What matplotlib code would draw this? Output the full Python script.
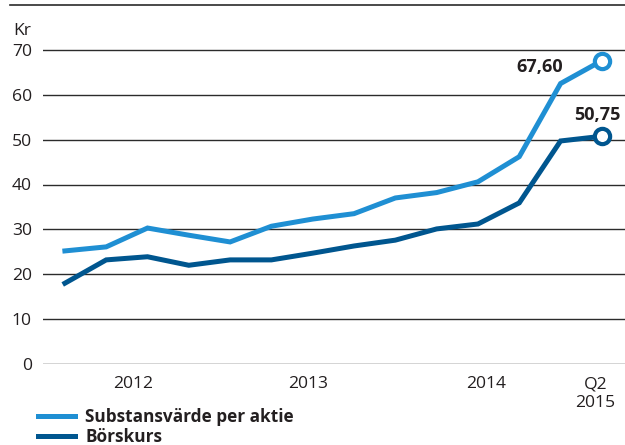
import matplotlib.pyplot as plt
from matplotlib.lines import Line2D

plt.rcParams['font.family'] = ['Open Sans', 'DejaVu Sans']

# quarterly values, Q4 2011 .. Q2 2015
substans = [25.2, 26.1, 30.3, 28.7, 27.2, 30.7, 32.3, 33.5, 37.0, 38.2, 40.6, 46.2, 62.5, 67.6]
borskurs = [18.0, 23.2, 23.9, 22.0, 23.2, 23.2, 24.7, 26.3, 27.6, 30.1, 31.2, 35.9, 49.7, 50.75]
x = list(range(len(substans)))

year_pos = [1.65, 5.9, 10.2, 12.85]
year_labels = ['2012', '2013', '2014', 'Q2\n2015']
yticks = [0, 10, 20, 30, 40, 50, 60, 70]

light = '#1f8fd3'
dark = '#00568f'
grid = '#2b2b2b'
txt = '#231f20'

fig = plt.figure(figsize=(6.25, 4.45), dpi=100)
ax = fig.add_axes([43 / 625, 81 / 445, 582 / 625, 359 / 445])

for v in yticks:
    ax.axhline(v, color=grid, lw=1.0, zorder=1)

ax.plot(x, substans, color=light, lw=3.6, solid_joinstyle='miter', zorder=3,
        label='Substansvärde per aktie')
ax.plot(x, borskurs, color=dark, lw=3.6, solid_joinstyle='miter', zorder=3,
        label='Börskurs')

# open circles at the last point
ax.plot(x[-1], substans[-1], 'o', ms=11, mfc='white', mec=light, mew=3, zorder=4)
ax.plot(x[-1], borskurs[-1], 'o', ms=11, mfc='white', mec=dark, mew=3, zorder=4)

ax.text(x[-1] - 1.5, substans[-1] - 1.5, '67,60', ha='center', va='center',
        fontsize=13, fontweight='bold', color=txt)
ax.text(x[-1] - 0.1, borskurs[-1] + 4.7, '50,75', ha='center', va='center',
        fontsize=13, fontweight='bold', color=txt)

ax.set_xlim(-0.53, 13.56)
ax.set_ylim(0, 80)
ax.set_yticks(yticks)
ax.set_yticklabels([str(v) for v in yticks], fontsize=12.6, color=txt)
ax.set_xticks(year_pos)
ax.set_xticklabels(year_labels, fontsize=12.6, color=txt, linespacing=1.2)
ax.tick_params(axis='both', length=0)
ax.tick_params(axis='y', pad=8)
ax.tick_params(axis='x', pad=9)
for s in ax.spines.values():
    s.set_visible(False)

# unit label and top rule
fig.text(13 / 625, 1 - 31 / 445, 'Kr', fontsize=12.6, color=txt, va='center', ha='left')
fig.add_artist(Line2D([10 / 625, 1.0], [1 - 5 / 445, 1 - 5 / 445], color=grid, lw=1.2))

fig.legend(loc='upper left', bbox_to_anchor=(38 / 625, 1 - 408 / 445), frameon=False,
           prop={'weight': 'bold', 'size': 12.4}, handlelength=2.15, handletextpad=0.58,
           labelspacing=0.1, borderaxespad=0, borderpad=0)
for t in fig.legends[0].get_texts():
    t.set_color(txt)

fig.savefig('out.png', dpi=100)
